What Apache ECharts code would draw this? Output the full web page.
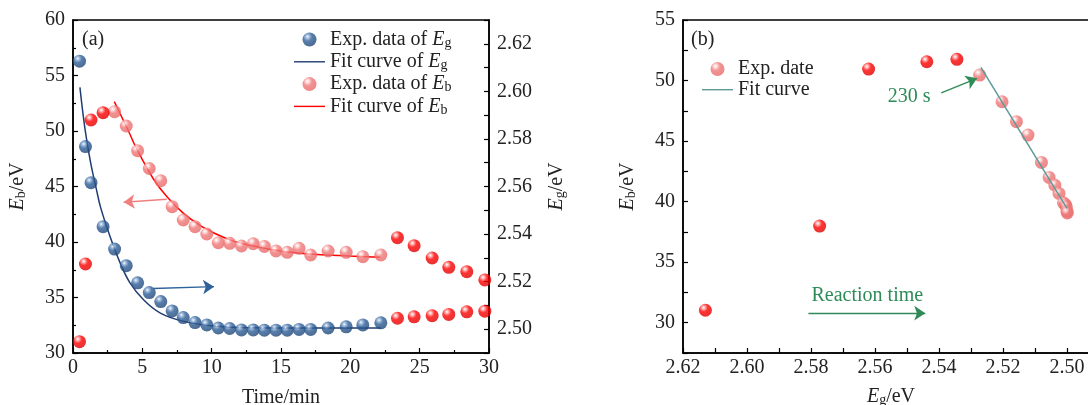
<!DOCTYPE html>
<html>
<head>
<meta charset="utf-8">
<script src="https://cdn.jsdelivr.net/npm/echarts@6/dist/echarts.min.js"></script>
<style>
  html, body { margin: 0; padding: 0; background: #fff; }
  #chart { width: 1088px; height: 405px; }
</style>
</head>
<body>
<div id="chart"></div>
<script>
// ---- panel (a): time series ----
var timeMin = [0.47, 0.9, 1.3, 2.17, 3.0, 3.84, 4.66, 5.5, 6.33, 7.15, 7.95, 8.8, 9.65, 10.48, 11.3, 12.15, 13.0, 13.8, 14.64, 15.45, 16.3, 17.14, 18.4, 19.7, 20.9, 22.2];
var egData = [2.6127, 2.5768, 2.5616, 2.5431, 2.5337, 2.5267, 2.5195, 2.5154, 2.5116, 2.5077, 2.5049, 2.5028, 2.5018, 2.5005, 2.5003, 2.4997, 2.4997, 2.4996, 2.4996, 2.4996, 2.4999, 2.4999, 2.5005, 2.501, 2.5018, 2.5027];
var ebData = [31.02, 38.02, 50.99, 51.65, 51.74, 50.45, 48.23, 46.62, 45.52, 43.18, 41.98, 41.38, 40.72, 39.94, 39.88, 39.64, 39.84, 39.6, 39.2, 39.07, 39.43, 38.83, 39.19, 39.07, 38.68, 38.83];
var ebRedCount = 4;  // first points drawn in red

var tailTime = [23.4, 24.6, 25.9, 27.1, 28.4, 29.7];
var tailEb = [40.39, 39.67, 38.56, 37.72, 37.33, 36.58];
var tailEg = [2.5046, 2.5052, 2.5057, 2.5062, 2.5073, 2.5076];

var fitEgTime = [0.5, 0.87, 1.27, 1.7, 2.0, 2.67, 3.39, 4.11, 5.07, 6.3, 8.0, 10.4, 12.8, 16, 19, 22.2];
var fitEgVal = [2.6017, 2.584, 2.570, 2.5585, 2.551, 2.539, 2.528, 2.5195, 2.5125, 2.5068, 2.5033, 2.5012, 2.5006, 2.5005, 2.5005, 2.5005];

var fitEbTime = [2.98, 4.0, 4.59, 5.79, 6.76, 7.95, 9.16, 10.36, 11.5, 12.76, 14, 15.17, 17.57, 19.98, 22.14];
var fitEbVal = [52.64, 50.0, 48.4, 45.7, 44.1, 42.6, 41.5, 40.7, 40.1, 39.7, 39.4, 39.15, 38.88, 38.74, 38.62];

// ---- panel (b): Eb versus Eg ----
var egRedB = [2.613, 2.5773, 2.562, 2.5438, 2.5344];
var ebRedB = [31.03, 37.98, 50.95, 51.55, 51.75];
var egPinkB = [2.5273, 2.5203, 2.5158, 2.5122, 2.508, 2.5056, 2.5038, 2.5025, 2.5011, 2.5005, 2.5002, 2.5, 2.4999];
var ebPinkB = [50.45, 48.25, 46.6, 45.5, 43.24, 42.0, 41.36, 40.68, 39.9, 39.75, 39.57, 39.2, 39.07];
var fitEgB = [2.5269, 2.5];
var fitEbB = [51.09, 39.44];

var FONT = 'Liberation Serif';
var FS = 20;
var GREEN = '#2e8b57';

function zip(a, b) {
  var out = [];
  for (var i = 0; i < a.length; i++) out.push([a[i], b[i]]);
  return out;
}

// shaded sphere look of the markers
function ball(c0, c1, c2) {
  return new echarts.graphic.RadialGradient(0.36, 0.3, 0.8, [
    { offset: 0, color: '#ffffff' },
    { offset: 0.13, color: c0 },
    { offset: 0.4, color: c1 },
    { offset: 1, color: c2 }
  ]);
}
var blueBall = ball('#9cb8dc', '#2e5f98', '#1d416f');
var redBall = ball('#ffb0b0', '#ff0000', '#d80000');
var pinkBall = ball('#fcd8d8', '#f07878', '#e56666');

var rich = {
  i: { fontFamily: FONT, fontSize: FS, fontStyle: 'italic', color: '#222', lineHeight: 22 },
  s: { fontFamily: FONT, fontSize: 14, color: '#222', lineHeight: 15, padding: [7, 0, 0, 0] },
  n: { fontFamily: FONT, fontSize: FS, color: '#222', lineHeight: 22 }
};

var legendNames = {
  'Exp. data of Eg': '{n|Exp. data of }{i|E}{s|g}',
  'Fit curve of Eg': '{n|Fit curve of }{i|E}{s|g}',
  'Exp. data of Eb': '{n|Exp. data of }{i|E}{s|b}',
  'Fit curve of Eb': '{n|Fit curve of }{i|E}{s|b}',
  'Exp. date': '{n|Exp. date}',
  'Fit curve': '{n|Fit curve}'
};

// thin horizontal bar, bounding box padded to the legend item size
var LINE_ICON = 'path://M0,0 M0,14 M0,6.3 L31,6.3 L31,7.7 L0,7.7 Z';

function evenLabel(v) {
  return Math.round(v * 100) % 2 === 0 ? v.toFixed(2) : '';
}

var axisCommon = {
  axisLine: { lineStyle: { color: '#000', width: 1.5 } },
  axisTick: { inside: true, length: 5, lineStyle: { color: '#000', width: 1.2 } },
  splitLine: { show: false },
  axisLabel: { fontFamily: FONT, fontSize: FS, color: '#222' },
  nameTextStyle: { fontFamily: FONT, fontSize: FS, color: '#222' }
};

function axis(extra) {
  var o = JSON.parse(JSON.stringify(axisCommon));
  o.nameTextStyle.rich = rich;
  for (var k in extra) {
    if (k === 'axisLabel' || k === 'axisTick') {
      for (var j in extra[k]) o[k][j] = extra[k][j];
    } else {
      o[k] = extra[k];
    }
  }
  return o;
}

var minorTick = { show: true, splitNumber: 2, length: 3, lineStyle: { color: '#000', width: 1.2 } };

function arrowLine(color, pairs) {
  return {
    silent: true, symbol: ['none', 'arrow'], symbolSize: 11,
    itemStyle: { color: color },
    lineStyle: { color: color, width: 1.4, type: 'solid' },
    label: { show: false },
    emphasis: { disabled: true },
    data: pairs
  };
}

var ebPinkA = zip(timeMin, ebData).slice(ebRedCount);
var ebRedA = zip(timeMin, ebData).slice(0, ebRedCount);

var option = {
  backgroundColor: '#fff',
  animation: false,
  grid: [
    { left: 73, top: 20, width: 416, height: 333, outerBoundsMode: 'none', containLabel: false,
      show: true, borderColor: '#000', borderWidth: 1.5, backgroundColor: 'transparent' },
    { left: 683, top: 20, width: 416, height: 333, outerBoundsMode: 'none', containLabel: false,
      show: true, borderColor: '#000', borderWidth: 1.5, backgroundColor: 'transparent' }
  ],
  legend: [
    {
      left: 289, top: 24, orient: 'vertical', itemWidth: 31, itemHeight: 14, itemGap: 1.3,
      data: [
        { name: 'Exp. data of Eg' },
        { name: 'Fit curve of Eg', icon: LINE_ICON },
        { name: 'Exp. data of Eb' },
        { name: 'Fit curve of Eb', icon: LINE_ICON }
      ],
      formatter: function (n) { return legendNames[n]; },
      textStyle: { fontFamily: FONT, fontSize: FS, color: '#222', rich: rich }
    },
    {
      left: 697, top: 54, orient: 'vertical', itemWidth: 31, itemHeight: 14, itemGap: 0.7,
      data: [{ name: 'Exp. date' }, { name: 'Fit curve', icon: LINE_ICON }],
      formatter: function (n) { return legendNames[n]; },
      textStyle: { fontFamily: FONT, fontSize: FS, color: '#222', rich: rich }
    }
  ],
  xAxis: [
    axis({
      type: 'value', gridIndex: 0, min: 0, max: 30, interval: 5,
      name: 'Time/min', nameLocation: 'middle', nameGap: 35,
      minorTick: minorTick, axisLabel: { margin: 5 }
    }),
    axis({
      type: 'value', gridIndex: 1, min: 2.49, max: 2.62, interval: 0.01, inverse: true,
      name: '{i|E}{s|g}{n|/eV}', nameLocation: 'middle', nameGap: 33,
      axisLabel: { margin: 5, formatter: evenLabel }
    })
  ],
  yAxis: [
    axis({
      type: 'value', gridIndex: 0, min: 30, max: 60, interval: 5, position: 'left',
      name: '{i|E}{s|b}{n|/eV}', nameLocation: 'middle', nameGap: 44, nameRotate: 90,
      minorTick: minorTick, axisLabel: { margin: 8 }
    }),
    axis({
      type: 'value', gridIndex: 0, min: 2.49, max: 2.63, interval: 0.01, position: 'right',
      name: '{i|E}{s|g}{n|/eV}', nameLocation: 'middle', nameGap: 57, nameRotate: 90,
      axisLabel: { margin: 8, formatter: evenLabel }
    }),
    axis({
      type: 'value', gridIndex: 1, min: 27.5, max: 55, interval: 2.5, position: 'left',
      name: '{i|E}{s|b}{n|/eV}', nameLocation: 'middle', nameGap: 44, nameRotate: 90,
      axisLabel: {
        margin: 8,
        formatter: function (v) { return Math.round(v * 10) % 50 === 0 ? String(v) : ''; }
      }
    })
  ],
  graphic: [
    { type: 'text', left: 82, top: 30, style: { text: '(a)', font: FS + 'px "' + FONT + '"', fill: '#222' } },
    { type: 'text', left: 691, top: 30, style: { text: '(b)', font: FS + 'px "' + FONT + '"', fill: '#222' } }
  ],
  series: [
    {
      name: 'Exp. data of Eg', type: 'scatter', xAxisIndex: 0, yAxisIndex: 1,
      symbolSize: 13, itemStyle: { color: blueBall }, z: 4,
      data: zip(timeMin, egData),
      markLine: arrowLine('#2f619b', [[{ coord: [5.79, 2.5171] }, { coord: [10.17, 2.5179] }]])
    },
    {
      name: 'Fit curve of Eg', type: 'line', xAxisIndex: 0, yAxisIndex: 1,
      smooth: 0.4, showSymbol: false, symbol: 'none', z: 3,
      lineStyle: { color: '#1f3d72', width: 1.5 }, itemStyle: { color: '#1f3d72' },
      data: zip(fitEgTime, fitEgVal)
    },
    {
      name: 'Exp. data of Eb', type: 'scatter', xAxisIndex: 0, yAxisIndex: 0,
      symbolSize: 13, itemStyle: { color: pinkBall }, z: 4,
      data: ebPinkA,
      markLine: arrowLine('#f08080', [[{ coord: [6.76, 43.85] }, { coord: [3.65, 43.58] }]])
    },
    {
      name: 'Fit curve of Eb', type: 'line', xAxisIndex: 0, yAxisIndex: 0,
      smooth: 0.4, showSymbol: false, symbol: 'none', z: 3,
      lineStyle: { color: '#ff0000', width: 1.5 }, itemStyle: { color: '#ff0000' },
      data: zip(fitEbTime, fitEbVal)
    },
    {
      name: 'red Eb', type: 'scatter', xAxisIndex: 0, yAxisIndex: 0,
      symbolSize: 13, itemStyle: { color: redBall }, z: 4,
      data: ebRedA.concat(zip(tailTime, tailEb))
    },
    {
      name: 'red Eg', type: 'scatter', xAxisIndex: 0, yAxisIndex: 1,
      symbolSize: 13, itemStyle: { color: redBall }, z: 4,
      data: zip(tailTime, tailEg)
    },
    {
      name: 'red B', type: 'scatter', xAxisIndex: 1, yAxisIndex: 2,
      symbolSize: 13, itemStyle: { color: redBall }, z: 4,
      data: zip(egRedB, ebRedB)
    },
    {
      name: 'Exp. date', type: 'scatter', xAxisIndex: 1, yAxisIndex: 2,
      symbolSize: 13, itemStyle: { color: pinkBall }, z: 4,
      data: zip(egPinkB, ebPinkB),
      markLine: arrowLine(GREEN, [
        [{ coord: [2.5393, 48.99] }, { coord: [2.5281, 50.18] }],
        [{ coord: [2.5808, 30.79] }, { coord: [2.5443, 30.79] }]
      ]),
      markPoint: {
        silent: true, symbolSize: 1, itemStyle: { color: 'transparent' },
        label: { show: true, position: 'inside', fontFamily: FONT, fontSize: FS, color: GREEN },
        data: [
          { coord: [2.5493, 48.64], value: '230 s', label: { formatter: '230 s' } },
          { coord: [2.5624, 32.2], value: 'Reaction time', label: { formatter: 'Reaction time' } }
        ]
      }
    },
    {
      name: 'Fit curve', type: 'line', xAxisIndex: 1, yAxisIndex: 2,
      showSymbol: false, symbol: 'none', z: 5,
      lineStyle: { color: '#5f9a9a', width: 1.5 }, itemStyle: { color: '#5f9a9a' },
      data: zip(fitEgB, fitEbB)
    }
  ]
};

var chart = echarts.init(document.getElementById('chart'), null, { renderer: 'canvas' });
chart.setOption(option);
</script>
</body>
</html>
